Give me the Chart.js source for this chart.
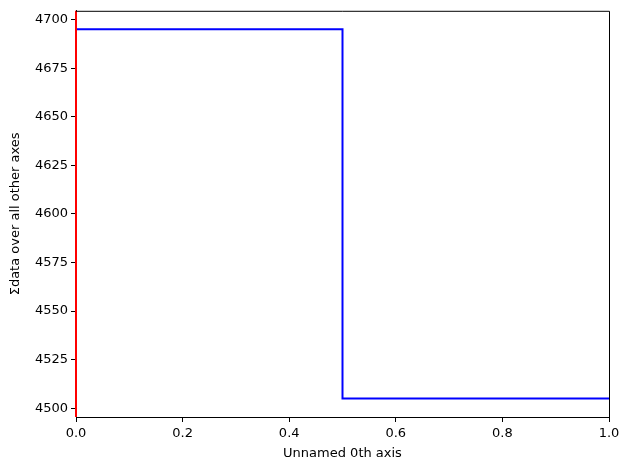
<!DOCTYPE html>
<html>
<head>
<meta charset="utf-8">
<script src="https://cdn.jsdelivr.net/npm/chart.js@4"></script>
<style>
  html, body { margin: 0; padding: 0; background: #fff; }
  #wrap { width: 630px; height: 470px; }
</style>
</head>
<body>
<div id="wrap"><canvas id="stepChart"></canvas></div>
<script>
// data
const stepX = [0, 0.5, 1.0];
const stepY = [4695, 4505, 4505];
const markerX = [0, 0];
const yLimits = [4495.5, 4704.5];
const xTicks = [0, 0.2, 0.4, 0.6, 0.8, 1.0];
const yTicks = [4500, 4525, 4550, 4575, 4600, 4625, 4650, 4675, 4700];

Chart.defaults.font.family = 'DejaVu Sans';
Chart.defaults.font.size = 13;
Chart.defaults.color = '#000';

// top and right spines
const frame = {
    id: 'frame',
    afterDatasetsDraw(chart) {
        const { ctx, chartArea: a } = chart;
        ctx.save();
        ctx.strokeStyle = '#000';
        ctx.lineWidth = 1;
        ctx.beginPath();
        ctx.moveTo(a.left, a.top + 0.5);
        ctx.lineTo(a.right + 0.5, a.top + 0.5);
        ctx.lineTo(a.right + 0.5, a.bottom);
        ctx.stroke();
        ctx.restore();
    }
};

const ctx = document.getElementById('stepChart').getContext('2d');
new Chart(ctx, {
    type: 'line',
    data: {
        datasets: [{
            // red marker at x = 0, drawn on top
            data: markerX.map((x, i) => ({ x: x, y: yLimits[i] })),
            borderColor: '#ff0000',
            borderWidth: 2,
            pointRadius: 0,
            fill: false,
            clip: false
        }, {
            data: stepX.map((x, i) => ({ x: x, y: stepY[i] })),
            borderColor: '#0000ff',
            borderWidth: 2,
            stepped: 'before',
            pointRadius: 0,
            fill: false
        }]
    },
    options: {
        responsive: true,
        maintainAspectRatio: false,
        animation: false,
        layout: { padding: { left: 8, right: 21, top: 10, bottom: 9 } },
        plugins: {
            legend: { display: false },
            tooltip: { enabled: false }
        },
        scales: {
            x: {
                type: 'linear',
                min: 0,
                max: 1,
                afterBuildTicks: axis => { axis.ticks = xTicks.map(v => ({ value: v })); },
                afterFit: axis => { axis.height = 44; },
                ticks: {
                    callback: v => v.toFixed(1),
                    padding: 4,
                    maxRotation: 0
                },
                grid: { drawOnChartArea: false, drawTicks: true, tickLength: 5, color: '#000' },
                border: { display: true, color: '#000', width: 1 },
                title: { display: true, text: 'Unnamed 0th axis', padding: { top: 0, bottom: 0 } }
            },
            y: {
                min: yLimits[0],
                max: yLimits[1],
                afterBuildTicks: axis => { axis.ticks = yTicks.map(v => ({ value: v })); },
                afterFit: axis => { axis.width = 68; },
                ticks: { padding: 3, callback: v => String(v) },
                grid: { drawOnChartArea: false, drawTicks: true, tickLength: 5, color: '#000' },
                border: { display: true, color: '#000', width: 1 },
                title: { display: true, text: 'Σdata over all other axes', padding: { top: 0, bottom: 0 } }
            }
        }
    },
    plugins: [frame]
});
</script>
</body>
</html>
